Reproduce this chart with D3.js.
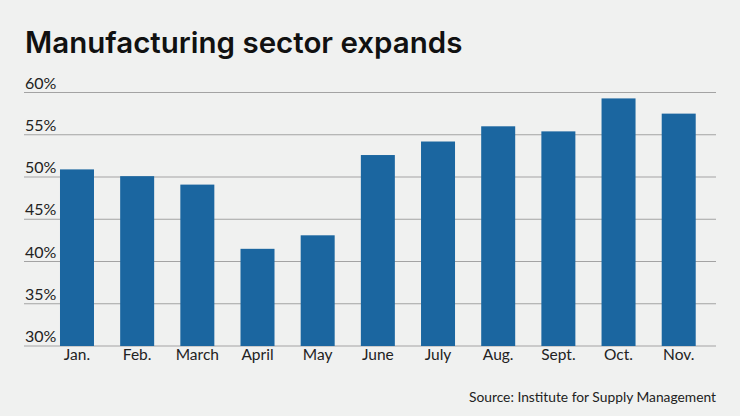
<!DOCTYPE html>
<html>
<head>
<meta charset="utf-8">
<script src="https://cdn.jsdelivr.net/npm/d3@7"></script>
<style>
  body { margin: 0; background: #f0f1f0; }
  svg { display: block; font-family: Lato, "Noto Sans", sans-serif; }
</style>
</head>
<body>
<div id="chart"></div>
<script>
// Data (ISM manufacturing index)
var months = ["Jan.", "Feb.", "March", "April", "May", "June", "July", "Aug.", "Sept.", "Oct.", "Nov."];
var values = [50.9, 50.1, 49.1, 41.5, 43.1, 52.6, 54.2, 56.0, 55.4, 59.3, 57.5];
var yTicks = [30, 35, 40, 45, 50, 55, 60];

var W = 740, H = 416;

var svg = d3.select("#chart")
  .append("svg")
    .attr("width", W)
    .attr("height", H);

svg.append("rect")
  .attr("width", W)
  .attr("height", H)
  .attr("fill", "#f0f1f0");

// Title
svg.append("text")
  .attr("x", 25)
  .attr("y", 53)
  .style("font-family", "Inter, Lato, sans-serif")
  .style("font-size", "29.5px")
  .style("font-weight", "600")
  .attr("fill", "#111")
  .text("Manufacturing sector expands");

// Scales
var x = d3.scaleBand()
  .domain(months)
  .range([46.9, 708.8])
  .paddingInner(0.435)
  .paddingOuter(0.2175);

var y = d3.scaleLinear()
  .domain([30, 60])
  .range([346, 92.5]);

// Gridlines + y labels
var grid = svg.append("g");
grid.selectAll("line")
  .data(yTicks)
  .enter().append("line")
    .attr("x1", 24)
    .attr("x2", 716)
    .attr("y1", d => y(d))
    .attr("y2", d => y(d))
    .attr("stroke", "#a3a3a3")
    .attr("stroke-width", 1.2);

grid.selectAll("text")
  .data(yTicks)
  .enter().append("text")
    .attr("x", 25)
    .attr("y", d => y(d) - 4)
    .style("font-size", "16px")
    .attr("fill", "#222")
    .text(d => d + "%");

// Bars
svg.selectAll(".bar")
  .data(values)
  .enter().append("rect")
    .attr("class", "bar")
    .attr("x", (d, i) => x(months[i]))
    .attr("width", x.bandwidth())
    .attr("y", d => y(d))
    .attr("height", d => y(30) - y(d))
    .attr("fill", "#1b66a0");

// X labels
svg.selectAll(".xlab")
  .data(months)
  .enter().append("text")
    .attr("class", "xlab")
    .attr("x", d => x(d) + x.bandwidth() / 2)
    .attr("y", 360)
    .attr("text-anchor", "middle")
    .style("font-size", "15.5px")
    .attr("fill", "#222")
    .text(d => d);

// Source
svg.append("text")
  .attr("x", 716)
  .attr("y", 402)
  .attr("text-anchor", "end")
  .style("font-size", "13.8px")
  .attr("fill", "#222")
  .text("Source: Institute for Supply Management");
</script>
</body>
</html>
